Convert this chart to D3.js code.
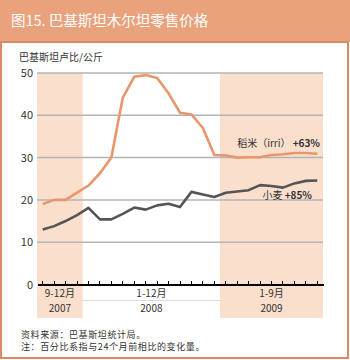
<!DOCTYPE html>
<html lang="zh">
<head>
<meta charset="utf-8">
<title>图15. 巴基斯坦木尔坦零售价格</title>
<script src="https://cdn.jsdelivr.net/npm/d3@7"></script>
<style>
  body { margin: 0; background: #fff; }
  svg { font-family: "Noto Sans CJK SC", "Noto Sans", sans-serif; }
  .axis path, .axis line { stroke: #000; shape-rendering: crispEdges; }
  .grid line { stroke: #b4b4b4; stroke-width: 1.5; }
</style>
</head>
<body>
<div id="chart"></div>
<script>
// monthly data, Sep 2007 - Sep 2009
var months = ["2007-09","2007-10","2007-11","2007-12",
  "2008-01","2008-02","2008-03","2008-04","2008-05","2008-06","2008-07","2008-08","2008-09","2008-10","2008-11","2008-12",
  "2009-01","2009-02","2009-03","2009-04","2009-05","2009-06","2009-07","2009-08","2009-09"]
var rice  = [19.0, 20.0, 20.0, 21.7, 23.4, 26.3, 30.0, 44.2, 49.1, 49.5, 48.8, 45.2, 40.6,
             40.2, 37.0, 30.6, 30.5, 30.0, 30.1, 30.1, 30.6, 30.8, 31.1, 31.1, 30.9]
var wheat = [13.0, 13.8, 15.0, 16.4, 18.1, 15.4, 15.4, 16.7, 18.2, 17.7, 18.7, 19.1, 18.3,
             21.9, 21.3, 20.7, 21.7, 22.0, 22.3, 23.5, 23.3, 22.9, 23.9, 24.5, 24.6]
var yTicks = [0, 10, 20, 30, 40, 50]
var periods = [
  {month: "9-12月", year: "2007", from: "2007-09", to: "2007-12", shaded: true},
  {month: "1-12月", year: "2008", from: "2008-01", to: "2008-12", shaded: false},
  {month: "1-9月",  year: "2009", from: "2009-01", to: "2009-09", shaded: true}
]

var w = 350, h = 360
var svg = d3.select("#chart").append("svg").attr("width", w).attr("height", h)

// header + frame
svg.append("rect").attr("x", 0).attr("y", 0).attr("width", w).attr("height", 42).attr("fill", "#e9a27b")
svg.append("rect").attr("x", 1).attr("y", 42).attr("width", 347).attr("height", 316)
   .attr("fill", "#fff").attr("stroke", "#d98a63").attr("stroke-width", 2)
svg.append("text").attr("x", 11).attr("y", 26).attr("fill", "#fff")
   .style("font-size", "14.5px").text("图15. 巴基斯坦木尔坦零售价格")

var x = d3.scaleBand().domain(months).range([37, 323]).padding(0)
var y = d3.scaleLinear().domain([0, 50]).range([284.5, 73])
var cx = function(m) { return x(m) + x.bandwidth() / 2 }

// shaded periods
svg.selectAll("rect.shade")
   .data(periods.filter(function(p) { return p.shaded }))
   .enter().append("rect").attr("class", "shade")
   .attr("x", function(p) { return x(p.from) })
   .attr("width", function(p) { return x(p.to) + x.bandwidth() - x(p.from) })
   .attr("y", y(50)).attr("height", 318 - y(50))
   .attr("fill", "#fadfcd")

// separator between month and year labels
var plain = periods.filter(function(p) { return !p.shaded })
svg.selectAll("line.sep").data(plain).enter().append("line")
   .attr("x1", function(p) { return x(p.from) })
   .attr("x2", function(p) { return x(p.to) + x.bandwidth() })
   .attr("y1", 300.5).attr("y2", 300.5)
   .attr("stroke", "#dcdcdc").attr("stroke-width", 1)

// gridlines
svg.append("g").attr("class", "grid")
   .selectAll("line").data(yTicks.filter(function(t) { return t > 0 })).enter().append("line")
   .attr("x1", 37).attr("x2", 323)
   .attr("y1", function(t) { return y(t) }).attr("y2", function(t) { return y(t) })

// y tick labels
svg.selectAll("text.ytick").data(yTicks).enter().append("text")
   .attr("class", "ytick")
   .attr("x", 33).attr("y", function(t) { return y(t) + 4 })
   .attr("text-anchor", "end").attr("fill", "#333")
   .style("font-size", "11px").text(function(t) { return t })

svg.append("text").attr("x", 19).attr("y", 61).attr("fill", "#333")
   .style("font-size", "10px").text("巴基斯坦卢比/公斤")

// x axis with upward ticks
var xAxis = d3.axisBottom(x).tickSize(-4).tickSizeOuter(0).tickFormat("")
svg.append("g").attr("class", "axis")
   .attr("transform", "translate(0," + y(0) + ")")
   .call(xAxis)
svg.select(".axis .domain").attr("stroke-width", 1.2)

// period labels
var pl = svg.selectAll("g.period").data(periods).enter().append("g")
   .attr("transform", function(p) {
     return "translate(" + ((x(p.from) + x(p.to) + x.bandwidth()) / 2) + ",0)" })
pl.append("text").attr("y", 297).attr("text-anchor", "middle").attr("fill", "#333")
  .style("font-size", "10px").text(function(p) { return p.month })
pl.append("text").attr("y", 312).attr("text-anchor", "middle").attr("fill", "#333")
  .style("font-size", "10px").text(function(p) { return p.year })

// lines
var line = function(vals) {
  return d3.line().x(function(d, i) { return cx(months[i]) }).y(function(d) { return y(d) })(vals)
}
svg.append("path").attr("d", line(wheat)).attr("fill", "none")
   .attr("stroke", "#555").attr("stroke-width", 2.6).attr("stroke-linejoin", "round")
svg.append("path").attr("d", line(rice)).attr("fill", "none")
   .attr("stroke", "#e8966b").attr("stroke-width", 2.6).attr("stroke-linejoin", "round")

// series labels
var rl = svg.append("text").attr("x", 320).attr("y", 147).attr("text-anchor", "end")
   .attr("fill", "#333").style("font-size", "10px")
rl.append("tspan").text("稻米（irri） ")
rl.append("tspan").style("font-weight", "bold").text("+63%")
var wl = svg.append("text").attr("x", 312).attr("y", 199).attr("text-anchor", "end")
   .attr("fill", "#333").style("font-size", "10px")
wl.append("tspan").text("小麦 ")
wl.append("tspan").style("font-weight", "bold").text("+85%")

// notes
svg.append("text").attr("x", 21).attr("y", 337.5).attr("fill", "#333")
   .style("font-size", "9px").style("letter-spacing", "0.6px").text("资料来源：巴基斯坦统计局。")
svg.append("text").attr("x", 21).attr("y", 349.5).attr("fill", "#333")
   .style("font-size", "9px").style("letter-spacing", "0.6px").text("注：百分比系指与24个月前相比的变化量。")
</script>
</body>
</html>
